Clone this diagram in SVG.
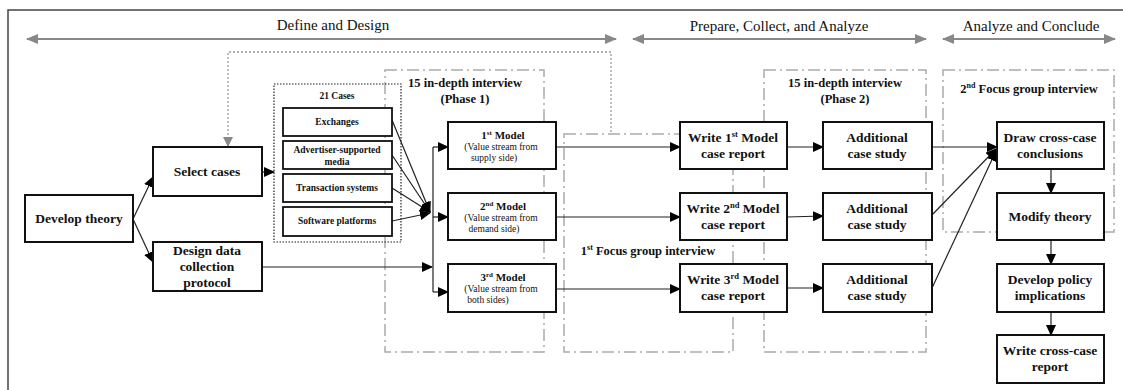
<svg xmlns="http://www.w3.org/2000/svg" width="1123" height="390" viewBox="0 0 1123 390">
<style>
text{fill:#111;text-anchor:middle}
.b{font-weight:bold}
.box{fill:#fff;stroke:#111;stroke-width:2}
.sbox{fill:#fff;stroke:#111;stroke-width:1.8}
.grp{fill:none;stroke:#aaa;stroke-width:1.5;stroke-dasharray:12 4 2 4}
.con{fill:none;stroke:#222;stroke-width:1.2}
.phase{fill:none;stroke:#888;stroke-width:2}
</style>
<defs>
<marker id="ah" markerWidth="11" markerHeight="10" refX="10" refY="5" orient="auto" markerUnits="userSpaceOnUse"><path d="M0,0 L11,5 L0,10 Z" fill="#000"/></marker>
<marker id="gh" markerWidth="12" markerHeight="10" refX="11" refY="5" orient="auto-start-reverse" markerUnits="userSpaceOnUse"><path d="M0,0 L12,5 L0,10 Z" fill="#888"/></marker>
<marker id="fh" markerWidth="10" markerHeight="10" refX="9" refY="5" orient="auto" markerUnits="userSpaceOnUse"><path d="M0,0 L10,5 L0,10 Z" fill="#888"/></marker>
</defs>
<rect x="8" y="10" width="1140" height="400" fill="none" stroke="#444" stroke-width="1.5"/>
<g id="phases">
<line class="phase" x1="27" y1="39" x2="616" y2="39" marker-start="url(#gh)" marker-end="url(#gh)"/>
<text x="333" y="30" font-size="15" font-family="Liberation Serif, serif">Define and Design</text>
<line class="phase" x1="633" y1="39" x2="926" y2="39" marker-start="url(#gh)" marker-end="url(#gh)"/>
<text x="779" y="31" font-size="15" font-family="Liberation Serif, serif">Prepare, Collect, and Analyze</text>
<line class="phase" x1="943" y1="39" x2="1115" y2="39" marker-start="url(#gh)" marker-end="url(#gh)"/>
<text x="1031" y="31" font-size="15" font-family="Liberation Serif, serif">Analyze and Conclude</text>
</g>
<g id="groups">
<rect class="grp" x="385" y="70" width="159" height="282"/>
<text class="b" x="465" y="87" font-size="12.5" font-family="Liberation Serif, serif">15 in-depth interview</text>
<text class="b" x="465" y="103" font-size="12.5" font-family="Liberation Serif, serif">(Phase 1)</text>
<rect class="grp" x="564" y="134" width="169" height="218"/>
<text class="b" x="648" y="255" font-size="12.5" font-family="Liberation Serif, serif">1<tspan font-size="8" dy="-5">st</tspan><tspan dy="5"> Focus group interview</tspan></text>
<rect class="grp" x="764" y="70" width="162" height="282"/>
<text class="b" x="845" y="87" font-size="12.5" font-family="Liberation Serif, serif">15 in-depth interview</text>
<text class="b" x="845" y="103" font-size="12.5" font-family="Liberation Serif, serif">(Phase 2)</text>
<rect class="grp" x="943" y="70" width="171" height="162"/>
<text class="b" x="1029" y="93" font-size="12.5" font-family="Liberation Serif, serif">2<tspan font-size="8" dy="-5">nd</tspan><tspan dy="5"> Focus group interview</tspan></text>
</g>
<g id="connectors">
<path d="M611,132 V52 H228 V146" fill="none" stroke="#999" stroke-width="1.3" stroke-dasharray="2 2" marker-end="url(#fh)"/>
<line class="con" x1="133" y1="219" x2="153" y2="177" marker-end="url(#ah)"/>
<line class="con" x1="133" y1="219" x2="153" y2="262" marker-end="url(#ah)"/>
<line class="con" x1="262" y1="172" x2="274" y2="172" marker-end="url(#ah)"/>
<line class="con" x1="392" y1="120" x2="430" y2="212" marker-end="url(#ah)"/>
<line class="con" x1="392" y1="155" x2="430" y2="212" marker-end="url(#ah)"/>
<line class="con" x1="392" y1="188" x2="430" y2="212" marker-end="url(#ah)"/>
<line class="con" x1="392" y1="221" x2="430" y2="213" marker-end="url(#ah)"/>
<line class="con" x1="262" y1="267" x2="432" y2="267" marker-end="url(#ah)"/>
<path class="con" d="M433,147 V292"/>
<line class="con" x1="433" y1="147" x2="448" y2="147" marker-end="url(#ah)"/>
<line class="con" x1="433" y1="217" x2="448" y2="217" marker-end="url(#ah)"/>
<line class="con" x1="433" y1="292" x2="448" y2="292" marker-end="url(#ah)"/>
<line class="con" x1="556" y1="147" x2="680" y2="147" marker-end="url(#ah)"/>
<line class="con" x1="556" y1="217" x2="680" y2="217" marker-end="url(#ah)"/>
<line class="con" x1="556" y1="289" x2="680" y2="289" marker-end="url(#ah)"/>
<line class="con" x1="787" y1="147" x2="823" y2="147" marker-end="url(#ah)"/>
<line class="con" x1="787" y1="217" x2="823" y2="216" marker-end="url(#ah)"/>
<line class="con" x1="787" y1="288" x2="823" y2="288" marker-end="url(#ah)"/>
<line class="con" x1="932" y1="147" x2="997" y2="147" marker-end="url(#ah)"/>
<line class="con" x1="932" y1="215" x2="996" y2="149" marker-end="url(#ah)"/>
<line class="con" x1="932" y1="288" x2="996" y2="151" marker-end="url(#ah)"/>
<line class="con" x1="1051" y1="169" x2="1051" y2="193" marker-end="url(#ah)"/>
<line class="con" x1="1051" y1="240" x2="1051" y2="264" marker-end="url(#ah)"/>
<line class="con" x1="1051" y1="312" x2="1051" y2="335" marker-end="url(#ah)"/>
</g>
<g id="develop-theory"><rect class="box" x="25" y="195" width="108" height="47"/><text class="b" x="79" y="223" font-size="13.5" font-family="Liberation Serif, serif">Develop theory</text></g>
<g id="select-cases"><rect class="box" x="153" y="147" width="109" height="49"/><text class="b" x="207" y="176" font-size="13.5" font-family="Liberation Serif, serif">Select cases</text></g>
<g id="design-protocol"><rect class="box" x="153" y="242" width="109" height="49"/><text class="b" x="207" y="255" font-size="13.5" font-family="Liberation Serif, serif">Design data</text><text class="b" x="207" y="271" font-size="13.5" font-family="Liberation Serif, serif">collection</text><text class="b" x="207" y="287" font-size="13.5" font-family="Liberation Serif, serif">protocol</text></g>
<g id="cases">
<rect x="274" y="84" width="127" height="158" fill="none" stroke="#222" stroke-width="1.2" stroke-dasharray="1.5 1.5"/>
<text class="b" x="337" y="99" font-size="9.5" font-family="Liberation Serif, serif">21 Cases</text>
</g>
<g id="exchanges"><rect class="sbox" x="283" y="108" width="109" height="28"/><text class="b" x="337" y="125" font-size="9.5" font-family="Liberation Serif, serif">Exchanges</text></g>
<g id="advertiser"><rect class="sbox" x="283" y="141" width="109" height="28"/><text class="b" x="337" y="153" font-size="9.5" font-family="Liberation Serif, serif">Advertiser-supported</text><text class="b" x="337" y="165" font-size="9.5" font-family="Liberation Serif, serif">media</text></g>
<g id="transaction"><rect class="sbox" x="283" y="174" width="109" height="28"/><text class="b" x="337" y="191" font-size="9.5" font-family="Liberation Serif, serif">Transaction systems</text></g>
<g id="software"><rect class="sbox" x="283" y="207" width="109" height="29"/><text class="b" x="337" y="224" font-size="9.5" font-family="Liberation Serif, serif">Software platforms</text></g>
<g id="model1"><rect class="box" x="448" y="122" width="108" height="47"/><text class="b" x="503" y="139" font-size="11" font-family="Liberation Serif, serif">1<tspan font-size="7" dy="-4">st</tspan><tspan dy="4"> Model</tspan></text><text x="501" y="150" font-size="9.5" font-family="Liberation Serif, serif">(Value stream from</text><text x="494" y="161" font-size="9.5" font-family="Liberation Serif, serif">supply  side)</text></g>
<g id="model2"><rect class="box" x="448" y="193" width="108" height="47"/><text class="b" x="503" y="210" font-size="11" font-family="Liberation Serif, serif">2<tspan font-size="7" dy="-4">nd</tspan><tspan dy="4"> Model</tspan></text><text x="501" y="221" font-size="9.5" font-family="Liberation Serif, serif">(Value stream from</text><text x="494" y="232" font-size="9.5" font-family="Liberation Serif, serif">demand side)</text></g>
<g id="model3"><rect class="box" x="448" y="264" width="108" height="48"/><text class="b" x="503" y="281" font-size="11" font-family="Liberation Serif, serif">3<tspan font-size="7" dy="-4">rd</tspan><tspan dy="4"> Model</tspan></text><text x="501" y="292" font-size="9.5" font-family="Liberation Serif, serif">(Value stream from</text><text x="488" y="303" font-size="9.5" font-family="Liberation Serif, serif">both sides)</text></g>
<g id="write1"><rect class="box" x="680" y="122" width="107" height="47"/><text class="b" x="733" y="142" font-size="13.5" font-family="Liberation Serif, serif">Write 1<tspan font-size="8.5" dy="-5">st</tspan><tspan dy="5"> Model</tspan></text><text class="b" x="733" y="158" font-size="13.5" font-family="Liberation Serif, serif">case report</text></g>
<g id="write2"><rect class="box" x="680" y="193" width="107" height="47"/><text class="b" x="733" y="213" font-size="13.5" font-family="Liberation Serif, serif">Write 2<tspan font-size="8.5" dy="-5">nd</tspan><tspan dy="5"> Model</tspan></text><text class="b" x="733" y="229" font-size="13.5" font-family="Liberation Serif, serif">case report</text></g>
<g id="write3"><rect class="box" x="680" y="264" width="107" height="48"/><text class="b" x="733" y="284" font-size="13.5" font-family="Liberation Serif, serif">Write 3<tspan font-size="8.5" dy="-5">rd</tspan><tspan dy="5"> Model</tspan></text><text class="b" x="733" y="300" font-size="13.5" font-family="Liberation Serif, serif">case report</text></g>
<g id="additional1"><rect class="box" x="823" y="122" width="109" height="47"/><text class="b" x="877" y="142" font-size="13.5" font-family="Liberation Serif, serif">Additional</text><text class="b" x="877" y="158" font-size="13.5" font-family="Liberation Serif, serif">case study</text></g>
<g id="additional2"><rect class="box" x="823" y="193" width="109" height="47"/><text class="b" x="877" y="213" font-size="13.5" font-family="Liberation Serif, serif">Additional</text><text class="b" x="877" y="229" font-size="13.5" font-family="Liberation Serif, serif">case study</text></g>
<g id="additional3"><rect class="box" x="823" y="264" width="109" height="48"/><text class="b" x="877" y="284" font-size="13.5" font-family="Liberation Serif, serif">Additional</text><text class="b" x="877" y="300" font-size="13.5" font-family="Liberation Serif, serif">case study</text></g>
<g id="draw-conclusions"><rect class="box" x="997" y="122" width="107" height="47"/><text class="b" x="1050" y="142" font-size="13.5" font-family="Liberation Serif, serif">Draw cross-case</text><text class="b" x="1050" y="158" font-size="13.5" font-family="Liberation Serif, serif">conclusions</text></g>
<g id="modify-theory"><rect class="box" x="997" y="193" width="107" height="47"/><text class="b" x="1050" y="221" font-size="13.5" font-family="Liberation Serif, serif">Modify theory</text></g>
<g id="policy"><rect class="box" x="997" y="264" width="107" height="48"/><text class="b" x="1050" y="284" font-size="13.5" font-family="Liberation Serif, serif">Develop policy</text><text class="b" x="1050" y="300" font-size="13.5" font-family="Liberation Serif, serif">implications</text></g>
<g id="write-cross"><rect class="box" x="997" y="335" width="107" height="48"/><text class="b" x="1050" y="355" font-size="13.5" font-family="Liberation Serif, serif">Write cross-case</text><text class="b" x="1050" y="371" font-size="13.5" font-family="Liberation Serif, serif">report</text></g>
</svg>
